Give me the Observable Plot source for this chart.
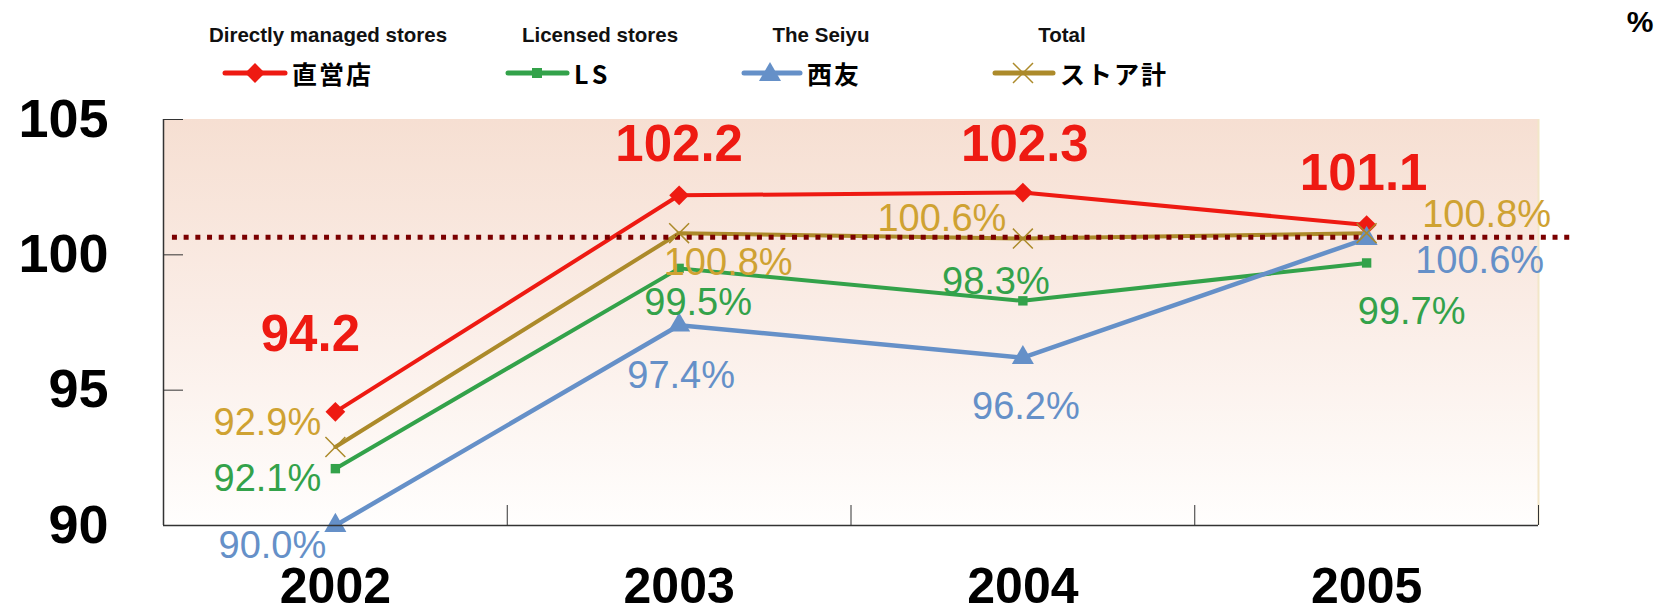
<!DOCTYPE html>
<html>
<head>
<meta charset="utf-8">
<script src="https://cdn.jsdelivr.net/npm/d3@7"></script>
<script src="https://cdn.jsdelivr.net/npm/@observablehq/plot@0.6"></script>
<style>
  body { margin: 0; background: #fff; font-family: "Liberation Sans", Arial, sans-serif; }
  #legend { position: relative; width: 1657px; height: 95px; }
  .en { position: absolute; top: 35px; font-weight: bold; font-size: 20.5px; color: #111;
        transform: translate(-50%, -50%); white-space: nowrap; line-height: 1; }
  .jp { position: absolute; top: 73px; font-weight: bold; font-size: 25px; color: #000;
        transform: translateY(-50%); white-space: nowrap; line-height: 1; letter-spacing: 2px;
        font-family: "Noto Sans CJK JP", "Noto Sans", sans-serif; }
  .sym { position: absolute; top: 58px; }
  .unit { position: absolute; left: 1640px; top: 22px; transform: translate(-50%, -50%);
          font-weight: bold; font-size: 30px; line-height: 1; }
  #chart svg { display: block; }
</style>
</head>
<body>
<div id="legend"></div>
<div id="chart"></div>
<script>
// ---- data ----
const years = ["2002", "2003", "2004", "2005"];
const directValues = [94.2, 102.2, 102.3, 101.1];
const lsValues = [92.1, 99.5, 98.3, 99.7];
const seiyuValues = [90.0, 97.4, 96.2, 100.6];
const totalValues = [92.9, 100.8, 100.6, 100.8];
const yTicks = [90, 95, 100, 105];
const referenceLevel = 100.65;
const seriesNames = ["直営店", "LS", "西友", "ストア計"];
const seriesNamesEn = ["Directly managed stores", "Licensed stores", "The Seiyu", "Total"];

// ---- styles ----
const lineColors = ["#ee1a12", "#33a24a", "#6590c8", "#ac8a2a"];
const labelColors = ["#ee1a12", "#33a24a", "#6590c8", "#cfa232"];
const allValues = [directValues, lsValues, seiyuValues, totalValues];
// label nudges (px) per series per year
const nudges = [
  [[-25, -77], [0, -51], [2, -48], [-3, -51]],
  [[-68, 10], [19, 34], [-27, -19], [45, 49]],
  [[-63, 20], [2, 51], [3, 49], [113, 22]],
  [[-68, -24], [49, 30], [-81, -20], [120, -18]]
];

// ---- legend ----
const legend = document.getElementById("legend");
const legendPos = [
  {en: 328, x1: 225, x2: 285, m: 255, t: 292},
  {en: 600, x1: 508, x2: 567, m: 537, t: 574},
  {en: 821, x1: 744, x2: 800, m: 770, t: 807},
  {en: 1062, x1: 995, x2: 1053, m: 1023, t: 1060}
];
function symbolSvg(k, p) {
  const w = p.x2 - p.x1 + 10, cx = p.m - p.x1 + 5, cy = 15;
  let marker = "";
  const c = lineColors[k];
  if (k === 0) marker = `<rect x="${cx - 7}" y="${cy - 7}" width="14" height="14" fill="${c}" transform="rotate(45 ${cx} ${cy})"/>`;
  if (k === 1) marker = `<rect x="${cx - 5}" y="${cy - 5}" width="10" height="10" fill="${c}"/>`;
  if (k === 2) marker = `<path d="M${cx},${cy - 11}L${cx + 11},${cy + 8}L${cx - 11},${cy + 8}Z" fill="${c}"/>`;
  if (k === 3) marker = `<path d="M${cx - 10},${cy - 10}L${cx + 10},${cy + 10}M${cx + 10},${cy - 10}L${cx - 10},${cy + 10}" stroke="${c}" stroke-width="1.5"/>`;
  return `<svg class="sym" style="left:${p.x1 - 5}px" width="${w}" height="30">
    <line x1="5" x2="${w - 5}" y1="${cy}" y2="${cy}" stroke="${c}" stroke-width="5" stroke-linecap="round"/>${marker}</svg>`;
}
let html = "";
seriesNames.forEach((name, k) => {
  const p = legendPos[k];
  html += `<div class="en" style="left:${p.en}px">${seriesNamesEn[k]}</div>`;
  html += symbolSvg(k, p);
  html += `<div class="jp" style="left:${p.t}px${k === 1 ? ';letter-spacing:4px' : ''}">${name}</div>`;
});
html += `<div class="unit">%</div>`;
legend.innerHTML = html;

// ---- chart ----
const rows = allValues.map((vals, k) => vals.map((v, i) => ({series: seriesNames[k], k, i, value: v})));
const symbols = ["square", "square", "triangle", "times"];
const markerR = [7.9, 5.3, 8.2, 9.1];
const order = [0, 1, 2, 3];

const lineMarks = order.map(k =>
  Plot.line(rows[k], {x: "i", y: "value", stroke: lineColors[k], strokeWidth: k === 2 ? 4.5 : 4}));
const dotMarks = order.map(k => Plot.dot(rows[k], {
  x: "i", y: "value", symbol: symbols[k], r: markerR[k],
  rotate: k === 0 ? 45 : 0,
  fill: k === 3 ? "none" : lineColors[k],
  stroke: k === 3 ? lineColors[k] : "none",
  strokeWidth: k === 3 ? 1.5 : 0
}));
const textMarks = [];
order.forEach(k => {
  rows[k].forEach((r, i) => {
    textMarks.push(Plot.text([r], {
      x: "i", y: "value",
      text: d => k === 0 ? d.value.toFixed(1) : d.value.toFixed(1) + "%",
      dx: nudges[k][i][0], dy: nudges[k][i][1],
      fill: labelColors[k],
      fontSize: k === 0 ? 51 : 38,
      fontWeight: k === 0 ? "bold" : "normal"
    }));
  });
});

const chart = Plot.plot({
  width: 1657, height: 516,
  marginLeft: 163, marginRight: 119, marginTop: 24, marginBottom: 86,
  x: {type: "linear", domain: [-0.5, years.length - 0.5], axis: null},
  y: {domain: [90, 105], axis: null},
  style: {fontFamily: "Liberation Sans, Arial, sans-serif", background: "transparent", overflow: "visible", color: "#000"},
  marks: [
    Plot.rect([0], {x1: -0.5, x2: years.length - 0.5, y1: 90, y2: 105, fill: "#f6e0d4"}),
    Plot.ruleX([years.length - 0.5], {y1: 90, y2: 105, stroke: "#f2e6c8", strokeWidth: 2}),
    ...lineMarks,
    Plot.ruleY([referenceLevel], {x1: -0.474, x2: 3.595, stroke: "#7b0000", strokeWidth: 5, strokeDasharray: "5,6.7"}),
    ...dotMarks,
    Plot.ruleX([-0.5], {y1: 90, y2: 105, stroke: "#333", strokeWidth: 1.5}),
    Plot.ruleY([90], {stroke: "#333", strokeWidth: 1.5}),
    Plot.axisY(yTicks, {label: null, tickSize: 20, dx: 20, tickFormat: () => "", stroke: "#333"}),
    Plot.axisY(yTicks, {label: null, tickSize: 0, tickPadding: 55, fontSize: 54, fontWeight: "bold", fill: "#000", letterSpacing: 2, tickFormat: d => String(d)}),
    Plot.axisX(d3.range(years.length + 1).map(i => i - 0.5), {label: null, tickSize: 20, dy: -20, tickFormat: () => "", stroke: "#333"}),
    Plot.axisX(d3.range(years.length), {label: null, tickSize: 0, tickPadding: 42, fontSize: 50, fontWeight: "bold", fill: "#000", tickFormat: i => years[i], letterSpacing: 5}),
    ...textMarks
  ]
});

// gradient for plot background
const ns = "http://www.w3.org/2000/svg";
const defs = document.createElementNS(ns, "defs");
defs.innerHTML = `<linearGradient id="bgGrad" x1="0" y1="0" x2="0" y2="1">
  <stop offset="0" stop-color="#f6dfd2"/>
  <stop offset="0.45" stop-color="#faece5"/>
  <stop offset="1" stop-color="#fffefd"/>
</linearGradient>`;
chart.insertBefore(defs, chart.firstChild);
chart.querySelectorAll('[fill="#f6e0d4"]').forEach(el => el.setAttribute("fill", "url(#bgGrad)"));
document.getElementById("chart").appendChild(chart);
</script>
</body>
</html>
